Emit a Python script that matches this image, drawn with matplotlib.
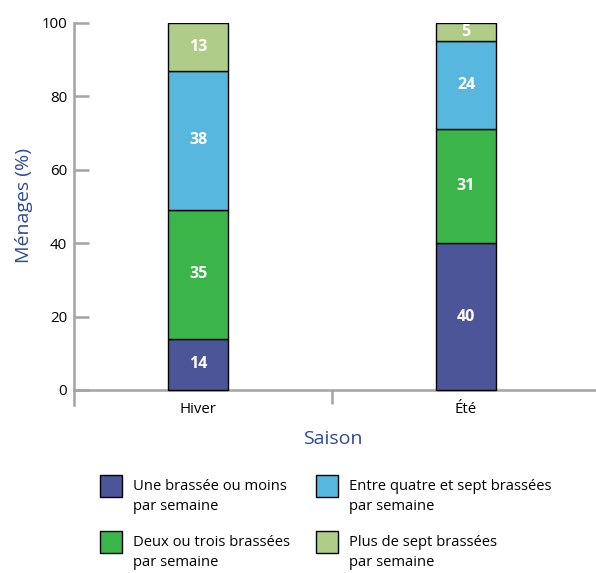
import numpy as np
import matplotlib.pyplot as plt
from matplotlib.patches import Rectangle

plt.rcParams['font.family'] = ['Open Sans', 'DejaVu Sans']

saisons = ['Hiver', 'Été']
categories = ['Une brassée ou moins\npar semaine',
              'Deux ou trois brassées\npar semaine',
              'Entre quatre et sept brassées\npar semaine',
              'Plus de sept brassées\npar semaine']
valeurs = [
    [14, 40],
    [35, 31],
    [38, 24],
    [13, 5],
]
couleurs = ['#4b5597', '#3bb54a', '#58b7de', '#afcc88']

W, H = 596, 573
fig = plt.figure(figsize=(W / 100, H / 100), dpi=100)
ax = fig.add_axes([74 / W, 1 - 405 / H, 1 - 74 / W, (405 - 23) / H])

grey = '#a3a3a3'
blue_txt = '#2e4a91'

x = np.arange(len(saisons))
bottom = np.zeros(len(saisons))
for vals, col in zip(valeurs, couleurs):
    vals = np.array(vals)
    ax.bar(x, vals, width=0.224, bottom=bottom, color=col,
           edgecolor='black', linewidth=1.0, zorder=3)
    for xi, b, v in zip(x, bottom, vals):
        ax.text(xi, b + v / 2, str(v), ha='center', va='center',
                color='white', fontsize=11.5, fontweight='bold', zorder=4)
    bottom += vals

ax.set_xlim(-0.463, 1.485)
ax.set_ylim(-4.1, 100)

for s in ['top', 'right']:
    ax.spines[s].set_visible(False)
ax.spines['bottom'].set_position(('data', 0))
ax.spines['left'].set_bounds(-4.1, 100)
for s in ['bottom', 'left']:
    ax.spines[s].set_color(grey)
    ax.spines[s].set_linewidth(1.8)

ax.set_yticks([0, 20, 40, 60, 80, 100])
ax.tick_params(axis='y', direction='in', length=11, width=1.8, color=grey,
               labelsize=10.8, pad=5)
ax.set_xticks(x)
ax.set_xticklabels(saisons)
ax.tick_params(axis='x', length=0, labelsize=10.8, pad=9)
ax.set_xticks([0.5], minor=True)
ax.tick_params(axis='x', which='minor', direction='out', length=10,
               width=1.8, color=grey)

ax.set_ylabel('Ménages (%)', color=blue_txt, fontsize=14)
ax.yaxis.set_label_coords(-0.078, (390 - 206) / (405 - 23) + 0.04)
fig.text(333 / W, 1 - 439 / H, 'Saison', color=blue_txt, fontsize=14,
         ha='center', va='center')

# légende dessinée à la main, deux colonnes
cols_x = [100, 316]
rows_y = [475, 531]
for i, (lab, col) in enumerate(zip(categories, couleurs)):
    cx = cols_x[i // 2]
    ry = rows_y[i % 2]
    fig.add_artist(Rectangle((cx / W, 1 - (ry + 22) / H), 22 / W, 22 / H,
                             transform=fig.transFigure, facecolor=col,
                             edgecolor='black', linewidth=1.0))
    fig.text((cx + 33) / W, 1 - (ry + 4) / H, lab, fontsize=10.6,
             ha='left', va='top', linespacing=1.45)

fig.savefig('out.png', dpi=100)
